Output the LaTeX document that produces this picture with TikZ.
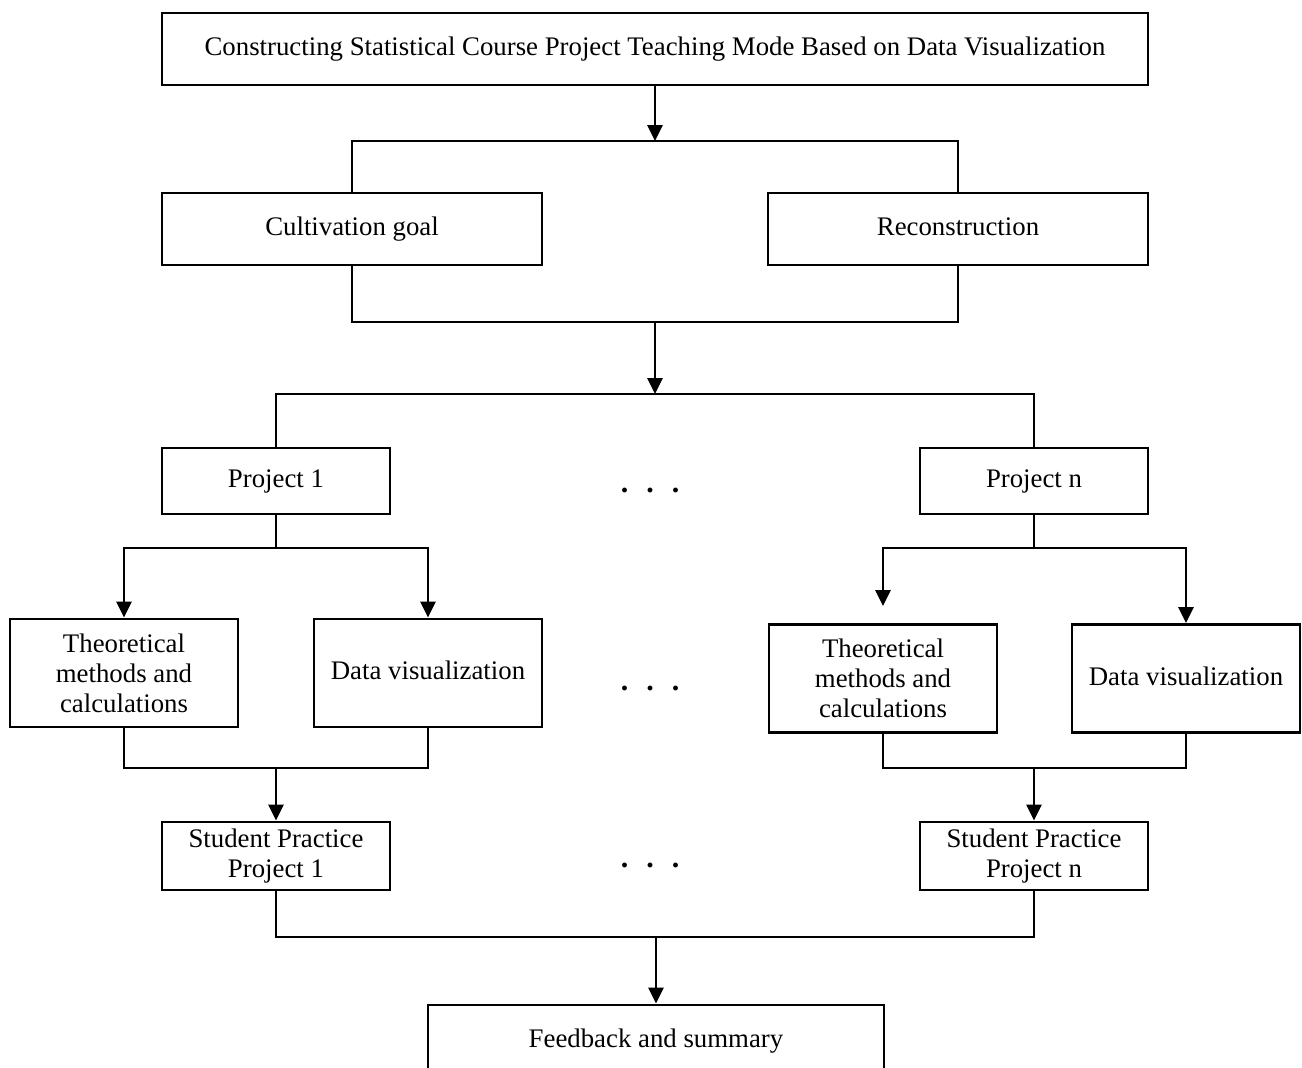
\documentclass[tikz,border=0pt]{standalone}
\usepackage{fontspec}
\setmainfont{Liberation Serif}
\usetikzlibrary{arrows.meta}
\tikzset{box/.style={draw, line width=1.4pt, align=center, inner sep=2pt, font=\fontsize{13.4}{15}\selectfont},
         oneline/.style={text height=1.75ex, text depth=.3ex},
         dots/.style={font=\fontsize{15}{16}\selectfont\bfseries}}
\begin{document}
\begin{tikzpicture}[x=0.5pt,y=-0.5pt,line width=1.4pt,>={Triangle[length=8pt,width=7.5pt]}]
        \useasboundingbox (0,0) rectangle (1302,1067);
        \node[box,oneline,minimum width=493pt,minimum height=36pt] (title) at (655,49) {Constructing Statistical Course Project Teaching Mode Based on Data Visualization};
        \node[box,oneline,minimum width=190pt,minimum height=36pt] (cult) at (352,229) {Cultivation goal};
        \node[box,oneline,minimum width=190pt,minimum height=36pt] (recon) at (958,229) {Reconstruction};
        \node[box,oneline,minimum width=114pt,minimum height=33pt] (p1) at (276,481) {Project 1};
        \node[box,oneline,minimum width=114pt,minimum height=33pt] (pn) at (1034,481) {Project n};
        \node[box,minimum width=114pt,minimum height=54pt] (theo1) at (124,673) {Theoretical\\methods and\\calculations};
        \node[box,oneline,minimum width=114pt,minimum height=54pt] (vis1) at (428,673) {Data visualization};
        \node[box,minimum width=114pt,minimum height=54pt] (theo2) at (883,678.5) {Theoretical\\methods and\\calculations};
        \node[box,oneline,minimum width=114pt,minimum height=54pt] (vis2) at (1186,678.5) {Data visualization};
        \node[box,minimum width=114pt,minimum height=34pt] (sp1) at (276,856) {Student Practice\\Project 1};
        \node[box,minimum width=114pt,minimum height=34pt] (spn) at (1034,856) {Student Practice\\Project n};
        \node[box,oneline,minimum width=228pt,minimum height=36pt] (fb) at (656,1041) {Feedback and summary};
        \node[dots] (dots1) at (650,490) {.\hspace{9pt}.\hspace{9pt}.};
        \node[dots] (dots2) at (650,688) {.\hspace{9pt}.\hspace{9pt}.};
        \node[dots] (dots3) at (650,865) {.\hspace{9pt}.\hspace{9pt}.};
        \coordinate (j1) at (655,141);
        \coordinate (j2) at (655,322);
        \coordinate (j3) at (655,394);
        \coordinate (j4) at (276,548);
        \coordinate (j5) at (1034,548);
        \coordinate (j6) at (276,768);
        \coordinate (j7) at (1034,768);
        \coordinate (j8) at (656,937);
        \draw[->] (title) -- (j1);
        \draw (cult.north) |- (j1) -| (recon.north);
        \draw (cult.south) |- (j2) -| (recon.south);
        \draw[->] (j2) -- (j3);
        \draw (p1.north) |- (j3) -| (pn.north);
        \draw (p1.south) -- (j4);
        \draw[->] (j4) -| (theo1.north);
        \draw[->] (j4) -| (vis1.north);
        \draw (pn.south) -- (j5);
        \draw[->] (j5) -| ([yshift=8.5pt]theo2.north);
        \draw[->] (j5) -| (vis2.north);
        \draw (theo1.south) |- (j6) -| (vis1.south);
        \draw[->] (j6) -- (sp1);
        \draw (theo2.south) |- (j7) -| (vis2.south);
        \draw[->] (j7) -- (spn);
        \draw (sp1.south) |- (j8) -| (spn.south);
        \draw[->] (j8) -- (fb);
    \end{tikzpicture}
\end{document}
